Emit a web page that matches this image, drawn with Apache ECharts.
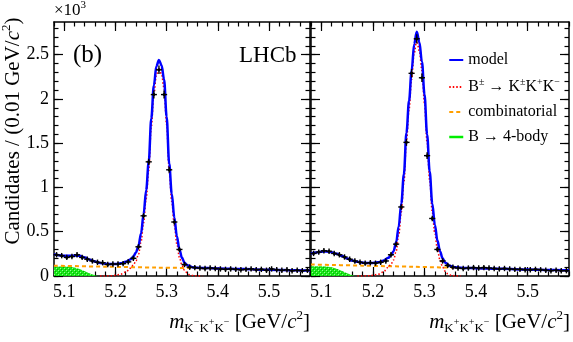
<!DOCTYPE html>
<html>
<head>
<meta charset="utf-8">
<script src="https://cdn.jsdelivr.net/npm/echarts@6/dist/echarts.min.js"></script>
<style>
  html, body { margin: 0; background: #fff; }
  #chart { width: 573px; height: 342px; }
</style>
</head>
<body>
<div id="chart"></div>
<script>
// axis ranges and tick labels (counts in units of 10^3)
const X_MIN = 5.08
const X_MAX = 5.58
const Y_MIN = 0
const Y_MAX = 2.87
const xMajor = [5.1, 5.2, 5.3, 5.4, 5.5]
const xTickLabels = ['5.1', '5.2', '5.3', '5.4', '5.5']
const yMajor = [0, 0.5, 1, 1.5, 2, 2.5]
const yTickLabels = ['0', '0.5', '1', '1.5', '2', '2.5']

// binned data, 0.01 GeV bins from 5.08 to 5.58
const leftCounts = [
  0.24, 0.23, 0.21, 0.22, 0.24, 0.21, 0.19, 0.17, 0.155, 0.15,
  0.13, 0.135, 0.135, 0.14, 0.16, 0.20, 0.33, 0.68, 1.29, 2.05,
  2.33, 2.05, 1.20, 0.61, 0.30, 0.13, 0.10, 0.095, 0.09, 0.085,
  0.09, 0.085, 0.08, 0.075, 0.08, 0.075, 0.07, 0.075, 0.08, 0.07,
  0.075, 0.065, 0.08, 0.07, 0.065, 0.07, 0.06, 0.065, 0.06, 0.065,
]
const rightCounts = [
  0.255, 0.27, 0.285, 0.28, 0.255, 0.24, 0.215, 0.19, 0.17, 0.155,
  0.145, 0.15, 0.145, 0.155, 0.17, 0.24, 0.36, 0.78, 1.51, 2.29,
  2.68, 2.24, 1.36, 0.65, 0.30, 0.17, 0.12, 0.10, 0.09, 0.085,
  0.09, 0.095, 0.09, 0.095, 0.09, 0.085, 0.08, 0.085, 0.08, 0.075,
  0.075, 0.07, 0.07, 0.075, 0.07, 0.065, 0.06, 0.065, 0.06, 0.06,
]

// fit curves
const modelX = [
  5.08, 5.09, 5.10, 5.11, 5.12, 5.13, 5.14, 5.15, 5.16, 5.17,
  5.18, 5.19, 5.20, 5.21, 5.22, 5.23, 5.235, 5.24, 5.245, 5.25,
  5.255, 5.26, 5.265, 5.27, 5.275, 5.28, 5.285, 5.29, 5.295, 5.30,
  5.305, 5.31, 5.315, 5.32, 5.325, 5.33, 5.335, 5.34, 5.35, 5.36,
  5.38, 5.40, 5.45, 5.50, 5.55, 5.58,
]
const leftModel = [
  0.245, 0.235, 0.228, 0.228, 0.232, 0.228, 0.21, 0.185, 0.163, 0.148,
  0.139, 0.135, 0.136, 0.143, 0.16, 0.19, 0.22, 0.265, 0.34, 0.48,
  0.70, 0.97, 1.29, 1.78, 2.15, 2.37, 2.44, 2.38, 2.22, 1.80,
  1.27, 0.93, 0.66, 0.45, 0.30, 0.205, 0.15, 0.122, 0.10, 0.093,
  0.09, 0.086, 0.078, 0.071, 0.065, 0.062,
]
const rightModel = [
  0.255, 0.265, 0.275, 0.278, 0.268, 0.25, 0.225, 0.197, 0.174, 0.16,
  0.151, 0.147, 0.148, 0.155, 0.172, 0.205, 0.235, 0.28, 0.38, 0.56,
  0.82, 1.15, 1.62, 1.98, 2.32, 2.62, 2.76, 2.64, 2.42, 2.05,
  1.60, 1.18, 0.82, 0.58, 0.40, 0.28, 0.20, 0.15, 0.112, 0.098,
  0.091, 0.088, 0.081, 0.074, 0.067, 0.064,
]
const signalX = [
  5.17, 5.18, 5.19, 5.20, 5.21, 5.22, 5.23, 5.235, 5.24, 5.245,
  5.25, 5.255, 5.26, 5.265, 5.27, 5.275, 5.28, 5.285, 5.29, 5.295,
  5.30, 5.305, 5.31, 5.315, 5.32, 5.325, 5.33, 5.335, 5.34, 5.345,
  5.35, 5.36, 5.37,
]
const leftSignal = [
  0, 0, 0.002, 0.008, 0.02, 0.045, 0.09, 0.125, 0.17, 0.245,
  0.385, 0.60, 0.87, 1.19, 1.68, 2.05, 2.27, 2.35, 2.28, 2.12,
  1.71, 1.18, 0.84, 0.57, 0.36, 0.21, 0.12, 0.065, 0.035, 0.015,
  0.006, 0, 0,
]
const rightSignal = [
  0, 0, 0.002, 0.008, 0.02, 0.045, 0.10, 0.135, 0.18, 0.28,
  0.46, 0.72, 1.05, 1.52, 1.88, 2.22, 2.52, 2.66, 2.54, 2.32,
  1.95, 1.50, 1.08, 0.72, 0.48, 0.30, 0.18, 0.10, 0.055, 0.025,
  0.01, 0, 0,
]
const combX = [5.08, 5.18, 5.28, 5.38, 5.48, 5.58]
const leftComb = [0.117, 0.105, 0.095, 0.087, 0.072, 0.061]
const rightComb = [0.13, 0.117, 0.104, 0.09, 0.076, 0.063]
const bodyX = [5.08, 5.09, 5.10, 5.11, 5.12, 5.13, 5.14, 5.15, 5.16, 5.165]
const leftBody = [0.107, 0.107, 0.106, 0.104, 0.097, 0.08, 0.055, 0.028, 0.008, 0]
const rightBody = [0.11, 0.11, 0.109, 0.107, 0.10, 0.083, 0.057, 0.03, 0.009, 0]

const FONT = '"Liberation Serif", "DejaVu Serif", serif'
const SIGNAL = 'B± → K±K+K−'
const BODY = 'B → 4-body'

const binCenters = leftCounts.map((_, i) => +(X_MIN + 0.005 + i * 0.01).toFixed(3))
const xMinor = []
for (let k = 0; k <= 25; k++) xMinor.push(+(X_MIN + k * 0.02).toFixed(2))
const yMinor = []
for (let k = 0; k <= 28; k++) yMinor.push(+(k * 0.1).toFixed(1))

const zip = (xs, ys) => xs.map((x, i) => [x, ys[i]])
const labelFor = (values, labels) => (v) => labels[values.findIndex((m) => Math.abs(m - v) < 1e-6)] ?? ''

// green hatched fill
const hatch = document.createElement('canvas')
hatch.width = 4
hatch.height = 4
const hctx = hatch.getContext('2d')
hctx.fillStyle = '#19e619'
hctx.fillRect(0, 0, 4, 4)
hctx.fillStyle = '#8dff8d'
hctx.fillRect(0, 0, 1, 1)
hctx.fillRect(2, 2, 1, 1)
hctx.fillStyle = '#00b400'
hctx.fillRect(1, 1, 1, 1)
hctx.fillRect(3, 3, 1, 1)

function axisPair(kind, grid, position, withLabels) {
  const isX = kind === 'x'
  const major = isX ? xMajor : yMajor
  const minor = isX ? xMinor : yMinor
  const base = {
    type: 'value',
    gridIndex: grid,
    position,
    min: isX ? X_MIN : Y_MIN,
    max: isX ? X_MAX : Y_MAX,
    splitLine: { show: false },
  }
  return [
    {
      ...base,
      axisLine: { show: true, onZero: false, lineStyle: { color: '#000', width: 1.5 } },
      axisTick: { show: true, inside: true, length: 9, customValues: major, lineStyle: { color: '#000', width: 1.2 } },
      axisLabel: withLabels
        ? {
            show: true,
            customValues: major,
            formatter: isX ? labelFor(xMajor, xTickLabels) : labelFor(yMajor, yTickLabels),
            color: '#000',
            fontFamily: FONT,
            fontSize: 18,
            margin: isX ? 7 : 5,
          }
        : { show: false },
    },
    {
      ...base,
      axisLine: { show: false, onZero: false },
      axisTick: { show: true, inside: true, length: 4.5, customValues: minor, lineStyle: { color: '#000', width: 1.2 } },
      axisLabel: { show: false },
    },
  ]
}

function renderPoint(params, api) {
  const x = api.value(0)
  const y = api.value(1)
  const c = api.coord([x, y])
  const half = api.size([0.01, 0])[0] / 2 + 0.5
  const err = Math.sqrt(y * 1000) / 1000
  const top = api.coord([x, y + err])[1]
  const bot = api.coord([x, y - err])[1]
  const ey = Math.max((bot - top) / 2, 2.7)
  const stroke = { stroke: '#000', lineWidth: 1.4 }
  return {
    type: 'group',
    children: [
      { type: 'line', shape: { x1: c[0] - half, y1: c[1], x2: c[0] + half, y2: c[1] }, style: stroke },
      { type: 'line', shape: { x1: c[0], y1: c[1] - ey, x2: c[0], y2: c[1] + ey }, style: stroke },
      { type: 'circle', shape: { cx: c[0], cy: c[1], r: 1.5 }, style: { fill: '#000' } },
    ],
  }
}

function panelSeries(p, counts, model, signal, comb, body) {
  const axes = { xAxisIndex: 4 * p, yAxisIndex: 4 * p }
  const line = { type: 'line', symbol: 'none', showSymbol: false, ...axes }
  return [
    {
      ...line,
      name: BODY,
      data: zip(bodyX, body),
      lineStyle: { width: 0, color: '#00ee00' },
      itemStyle: { color: '#00ee00' },
      areaStyle: { color: { image: hatch, repeat: 'repeat' }, opacity: 1 },
    },
    {
      ...line,
      name: 'combinatorial',
      data: zip(combX, comb),
      smooth: 0.3,
      lineStyle: { color: '#ff9f00', width: 2, type: [4, 3] },
      itemStyle: { color: '#ff9f00' },
    },
    {
      ...line,
      name: SIGNAL,
      data: zip(signalX, signal),
      smooth: 0.35,
      smoothMonotone: 'x',
      lineStyle: { color: '#ff0000', width: 1.5, type: [1.5, 2] },
      itemStyle: { color: '#ff0000' },
    },
    {
      ...line,
      name: 'model',
      data: zip(modelX, model),
      smooth: 0.35,
      smoothMonotone: 'x',
      lineStyle: { color: '#0000ff', width: 2.5 },
      itemStyle: { color: '#0000ff' },
    },
    {
      type: 'custom',
      name: 'data',
      ...axes,
      data: zip(binCenters, counts),
      renderItem: renderPoint,
      z: 10,
    },
  ]
}

const richMain = {
  n: { fontFamily: FONT, fontSize: 21, lineHeight: 26, verticalAlign: 'middle', color: '#000' },
  i: { fontFamily: FONT, fontSize: 21, fontStyle: 'italic', lineHeight: 26, verticalAlign: 'middle', color: '#000' },
  s: { fontFamily: FONT, fontSize: 13, lineHeight: 13, verticalAlign: 'top', color: '#000' },
  sub: { fontFamily: FONT, fontSize: 13, lineHeight: 13, verticalAlign: 'bottom', color: '#000' },
  ss: { fontFamily: FONT, fontSize: 10, lineHeight: 10, verticalAlign: 'middle', color: '#000' },
}

const chart = echarts.init(document.getElementById('chart'), null, { renderer: 'canvas' })
chart.setOption({
  animation: false,
  backgroundColor: '#fff',
  grid: [
    { left: 54, top: 22, width: 256, height: 254 },
    { left: 311, top: 22, width: 258, height: 254 },
  ],
  xAxis: [
    ...axisPair('x', 0, 'bottom', true),
    ...axisPair('x', 0, 'top', false),
    ...axisPair('x', 1, 'bottom', true),
    ...axisPair('x', 1, 'top', false),
  ],
  yAxis: [
    ...axisPair('y', 0, 'left', true),
    ...axisPair('y', 0, 'right', false),
    ...axisPair('y', 1, 'left', false),
    ...axisPair('y', 1, 'right', false),
  ],
  legend: {
    orient: 'vertical',
    left: 443,
    top: 47,
    itemWidth: 14,
    itemHeight: 14,
    itemGap: 9,
    selectedMode: false,
    itemStyle: { opacity: 0, borderWidth: 0 },
    data: [
      'model',
      SIGNAL,
      'combinatorial',
      { name: BODY, lineStyle: { color: '#00ee00', width: 2.5 } },
    ],
    formatter: (name) =>
      name === SIGNAL ? '{n|B}{s|±}{n| → K}{s|±}{n|K}{s|+}{n|K}{s|−}' : '{n|' + name + '}',
    textStyle: {
      color: '#000',
      rich: {
        n: { fontFamily: FONT, fontSize: 16, lineHeight: 20, verticalAlign: 'middle', color: '#000' },
        s: { fontFamily: FONT, fontSize: 10, lineHeight: 10, verticalAlign: 'top', color: '#000' },
      },
    },
  },
  graphic: [
    {
      type: 'text',
      left: 54,
      top: 0,
      style: { text: '{n|×10}{s|3}', rich: { n: { ...richMain.n, fontSize: 17, lineHeight: 22 }, s: { ...richMain.s, fontSize: 11 } } },
    },
    { type: 'text', left: 73, top: 43, style: { text: '(b)', font: '25px ' + FONT, fill: '#000' } },
    { type: 'text', left: 239, top: 44, style: { text: 'LHCb', font: '23px ' + FONT, fill: '#000' } },
    {
      type: 'text',
      x: 13,
      y: 131,
      rotation: Math.PI / 2,
      style: {
        text: '{n|Candidates / (0.01 GeV/}{i|c}{s|2}{n|)}',
        rich: richMain,
        align: 'center',
        verticalAlign: 'middle',
      },
    },
    {
      type: 'text',
      x: 310,
      y: 322,
      style: {
        text: '{i|m}{sub|K}{ss|−}{sub|K}{ss|+}{sub|K}{ss|−}{n| [GeV/}{i|c}{s|2}{n|]}',
        rich: richMain,
        align: 'right',
        verticalAlign: 'middle',
      },
    },
    {
      type: 'text',
      x: 570,
      y: 322,
      style: {
        text: '{i|m}{sub|K}{ss|+}{sub|K}{ss|+}{sub|K}{ss|−}{n| [GeV/}{i|c}{s|2}{n|]}',
        rich: richMain,
        align: 'right',
        verticalAlign: 'middle',
      },
    },
  ],
  series: [
    ...panelSeries(0, leftCounts, leftModel, leftSignal, leftComb, leftBody),
    ...panelSeries(1, rightCounts, rightModel, rightSignal, rightComb, rightBody),
  ],
})
</script>
</body>
</html>
